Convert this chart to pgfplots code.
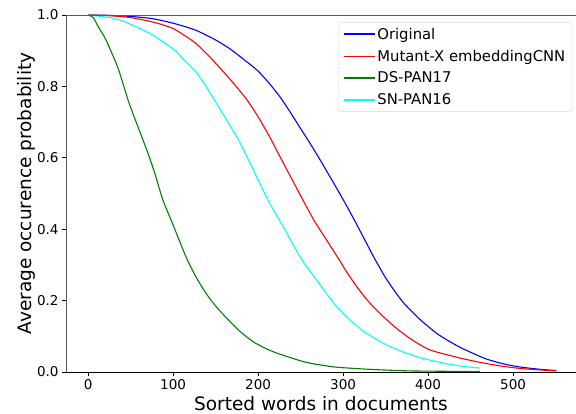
\documentclass[border=0pt]{standalone}
\usepackage{fontspec}
\setmainfont{DejaVu Sans}
\usepackage{pgfplots}
\pgfplotsset{compat=1.18}
\definecolor{mplgreen}{RGB}{0,128,0}
\definecolor{mplcyan}{RGB}{0,255,255}
\definecolor{mplblue}{RGB}{0,0,255}
\definecolor{mplred}{RGB}{255,0,0}

\begin{document}
\begin{tikzpicture}
\begin{axis}[
    name=ax,
    scale only axis,
    width=510bp, height=357bp,
    xmin=-26, xmax=574,
    ymin=0, ymax=1,
    axis x line*=bottom,
    axis y line*=left,
    x axis line style={black, line width=0.9bp},
    y axis line style={black!65, line width=0.9bp},
    tick align=outside,
    major tick length=4bp,
    tick style={black, line width=0.8bp},
    xtick={0,100,200,300,400,500},
    ytick={0,0.2,0.4,0.6,0.8,1.0},
    yticklabel style={/pgf/number format/.cd,fixed,fixed zerofill,precision=1},
    /pgf/number format/assume math mode=true,
    tick label style={font=\fontsize{13.5bp}{16bp}\selectfont},
    label style={font=\fontsize{18.5bp}{21bp}\selectfont},
    ylabel style={yshift=-5bp},
    xlabel={Sorted words in documents},
    ylabel={Average occurence probability},
    legend style={at={(0.992,0.98)}, anchor=north east,
        draw=black!15, rounded corners=2bp, fill=white,
        font=\fontsize{14.8bp}{17bp}\selectfont,
        row sep=5.3bp, inner xsep=4.5bp, inner ysep=3.5bp},
    legend cell align=left,
    legend image code/.code={\draw[#1] (0bp,0bp) -- (31bp,0bp);},
    every axis plot/.append style={line width=1.1bp, smooth, tension=0.4},
    clip=false,
]
\addlegendimage{mplblue, line width=1.4bp}
\addlegendentry{Original}
\addlegendimage{mplred, line width=1.4bp}
\addlegendentry{Mutant-X embeddingCNN}
\addlegendimage{mplgreen, line width=1.4bp}
\addlegendentry{DS-PAN17}
\addlegendimage{mplcyan, line width=1.4bp}
\addlegendentry{SN-PAN16}

\addplot[mplblue, forget plot] coordinates {
(0,1) (25,0.999) (50,0.996) (75,0.990) (100,0.977) (126,0.958) (150,0.930)
(167,0.905) (185,0.872) (200,0.843) (214,0.806) (226,0.77) (238,0.727)
(250,0.682) (262,0.637) (273,0.594) (285,0.545) (296,0.50) (310,0.44)
(324,0.377) (337,0.318) (351,0.260) (370,0.197) (391,0.146) (412,0.105)
(436,0.071) (455,0.05) (469,0.036) (490,0.022) (508,0.014) (530,0.008)
(551,0.004)
};
\addplot[mplred, forget plot] coordinates {
(0,1) (25,0.998) (49,0.993) (75,0.981) (100,0.962) (126,0.922) (145,0.878)
(158,0.844) (171,0.809) (187,0.762) (200,0.715) (214,0.657) (222,0.620)
(238,0.548) (246,0.512) (265,0.428) (281,0.368) (296,0.312) (304,0.281)
(317,0.236) (330,0.197) (346,0.158) (363,0.122) (380,0.092) (402,0.062)
(436,0.040) (461,0.027) (485,0.017) (508,0.010) (530,0.006) (551,0.003)
};
\addplot[mplgreen, forget plot] coordinates {
(0,1) (6,0.993) (12,0.967) (20,0.935) (28,0.893) (36,0.846) (47,0.762)
(57,0.697) (69,0.622) (78,0.56) (88,0.482) (100,0.412) (116,0.318)
(128,0.262) (140,0.216) (150,0.185) (163,0.151) (178,0.115) (194,0.085)
(208,0.067) (222,0.053) (249,0.032) (265,0.023) (290,0.014) (320,0.009)
(344,0.006) (380,0.003) (420,0.002) (461,0.001)
};
\addplot[mplcyan, forget plot] coordinates {
(0,1) (25,0.993) (36,0.987) (49,0.975) (75,0.945) (100,0.905) (112,0.877)
(126,0.843) (136,0.810) (155,0.737) (167,0.690) (179,0.641) (195,0.563)
(212,0.480) (230,0.405) (251,0.316) (273,0.244) (290,0.19) (304,0.155)
(325,0.112) (351,0.076) (373,0.054) (394,0.038) (420,0.024) (440,0.016)
(461,0.011)
};
% grey top spine
\draw[black!65, line width=0.9bp] (rel axis cs:0,1) -- (rel axis cs:1,1);
\end{axis}
\pgfresetboundingbox
\path[use as bounding box] ([xshift=-66bp,yshift=-42bp]ax.south west) rectangle ([yshift=15bp]ax.north east);
\end{tikzpicture}
\end{document}
